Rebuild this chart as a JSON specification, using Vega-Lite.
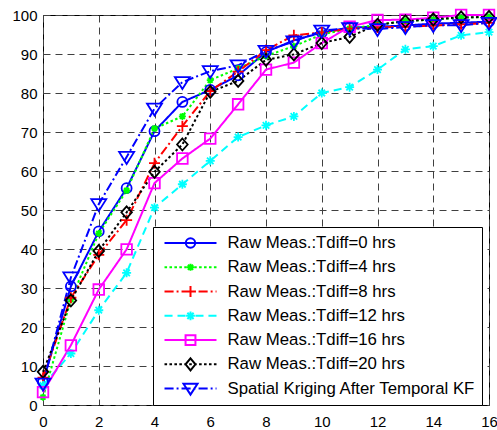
{
  "$schema": "https://vega.github.io/schema/vega-lite/v6.json",
  "width": 446,
  "height": 390,
  "autosize": {"type": "none"},
  "padding": {"left": 43, "top": 15, "right": 8, "bottom": 25},
  "background": "white",
  "config": {
    "view": {"stroke": "#000", "strokeWidth": 1},
    "font": "Liberation Sans",
    "axis": {
      "domain": false, "ticks": false, "tickSize": 0,
      "labelFont": "Liberation Sans", "labelFontSize": 15, "labelColor": "#000",
      "grid": true, "gridColor": "#404040", "gridDash": [7, 5], "gridWidth": 1, "gridOpacity": 1,
      "title": null, "labelOverlap": false
    }
  },
  "data": {"values": [
    {"series": "Raw Meas.:Tdiff=0 hrs", "x": 0, "y": 5.9},
    {"series": "Raw Meas.:Tdiff=0 hrs", "x": 1, "y": 30.4},
    {"series": "Raw Meas.:Tdiff=0 hrs", "x": 2, "y": 44.5},
    {"series": "Raw Meas.:Tdiff=0 hrs", "x": 3, "y": 55.6},
    {"series": "Raw Meas.:Tdiff=0 hrs", "x": 4, "y": 70.2},
    {"series": "Raw Meas.:Tdiff=0 hrs", "x": 5, "y": 77.7},
    {"series": "Raw Meas.:Tdiff=0 hrs", "x": 6, "y": 80.8},
    {"series": "Raw Meas.:Tdiff=0 hrs", "x": 7, "y": 84.5},
    {"series": "Raw Meas.:Tdiff=0 hrs", "x": 8, "y": 90.5},
    {"series": "Raw Meas.:Tdiff=0 hrs", "x": 9, "y": 93.5},
    {"series": "Raw Meas.:Tdiff=0 hrs", "x": 10, "y": 95.5},
    {"series": "Raw Meas.:Tdiff=0 hrs", "x": 11, "y": 96.8},
    {"series": "Raw Meas.:Tdiff=0 hrs", "x": 12, "y": 97.0},
    {"series": "Raw Meas.:Tdiff=0 hrs", "x": 13, "y": 97.3},
    {"series": "Raw Meas.:Tdiff=0 hrs", "x": 14, "y": 97.8},
    {"series": "Raw Meas.:Tdiff=0 hrs", "x": 15, "y": 98.0},
    {"series": "Raw Meas.:Tdiff=0 hrs", "x": 16, "y": 98.3},

    {"series": "Raw Meas.:Tdiff=4 hrs", "x": 0, "y": 2},
    {"series": "Raw Meas.:Tdiff=4 hrs", "x": 1, "y": 27},
    {"series": "Raw Meas.:Tdiff=4 hrs", "x": 2, "y": 44},
    {"series": "Raw Meas.:Tdiff=4 hrs", "x": 3, "y": 55},
    {"series": "Raw Meas.:Tdiff=4 hrs", "x": 4, "y": 70.9},
    {"series": "Raw Meas.:Tdiff=4 hrs", "x": 5, "y": 74},
    {"series": "Raw Meas.:Tdiff=4 hrs", "x": 6, "y": 83.3},
    {"series": "Raw Meas.:Tdiff=4 hrs", "x": 7, "y": 86.3},
    {"series": "Raw Meas.:Tdiff=4 hrs", "x": 8, "y": 89.5},
    {"series": "Raw Meas.:Tdiff=4 hrs", "x": 9, "y": 92},
    {"series": "Raw Meas.:Tdiff=4 hrs", "x": 10, "y": 95},
    {"series": "Raw Meas.:Tdiff=4 hrs", "x": 11, "y": 96.5},
    {"series": "Raw Meas.:Tdiff=4 hrs", "x": 12, "y": 97.5},
    {"series": "Raw Meas.:Tdiff=4 hrs", "x": 13, "y": 98.5},
    {"series": "Raw Meas.:Tdiff=4 hrs", "x": 14, "y": 98.8},
    {"series": "Raw Meas.:Tdiff=4 hrs", "x": 15, "y": 99.3},
    {"series": "Raw Meas.:Tdiff=4 hrs", "x": 16, "y": 99.5},

    {"series": "Raw Meas.:Tdiff=8 hrs", "x": 0, "y": 7},
    {"series": "Raw Meas.:Tdiff=8 hrs", "x": 1, "y": 27.5},
    {"series": "Raw Meas.:Tdiff=8 hrs", "x": 2, "y": 38.5},
    {"series": "Raw Meas.:Tdiff=8 hrs", "x": 3, "y": 47.4},
    {"series": "Raw Meas.:Tdiff=8 hrs", "x": 4, "y": 62},
    {"series": "Raw Meas.:Tdiff=8 hrs", "x": 5, "y": 71.5},
    {"series": "Raw Meas.:Tdiff=8 hrs", "x": 6, "y": 80.5},
    {"series": "Raw Meas.:Tdiff=8 hrs", "x": 7, "y": 85.5},
    {"series": "Raw Meas.:Tdiff=8 hrs", "x": 8, "y": 91},
    {"series": "Raw Meas.:Tdiff=8 hrs", "x": 9, "y": 94.8},
    {"series": "Raw Meas.:Tdiff=8 hrs", "x": 10, "y": 95.5},
    {"series": "Raw Meas.:Tdiff=8 hrs", "x": 11, "y": 96.5},
    {"series": "Raw Meas.:Tdiff=8 hrs", "x": 12, "y": 96.8},
    {"series": "Raw Meas.:Tdiff=8 hrs", "x": 13, "y": 97},
    {"series": "Raw Meas.:Tdiff=8 hrs", "x": 14, "y": 97.3},
    {"series": "Raw Meas.:Tdiff=8 hrs", "x": 15, "y": 97.6},
    {"series": "Raw Meas.:Tdiff=8 hrs", "x": 16, "y": 98},

    {"series": "Raw Meas.:Tdiff=12 hrs", "x": 0, "y": 5},
    {"series": "Raw Meas.:Tdiff=12 hrs", "x": 1, "y": 13.2},
    {"series": "Raw Meas.:Tdiff=12 hrs", "x": 2, "y": 24.3},
    {"series": "Raw Meas.:Tdiff=12 hrs", "x": 3, "y": 33.9},
    {"series": "Raw Meas.:Tdiff=12 hrs", "x": 4, "y": 50.6},
    {"series": "Raw Meas.:Tdiff=12 hrs", "x": 5, "y": 56.6},
    {"series": "Raw Meas.:Tdiff=12 hrs", "x": 6, "y": 62.6},
    {"series": "Raw Meas.:Tdiff=12 hrs", "x": 7, "y": 68.7},
    {"series": "Raw Meas.:Tdiff=12 hrs", "x": 8, "y": 71.7},
    {"series": "Raw Meas.:Tdiff=12 hrs", "x": 9, "y": 74},
    {"series": "Raw Meas.:Tdiff=12 hrs", "x": 10, "y": 80},
    {"series": "Raw Meas.:Tdiff=12 hrs", "x": 11, "y": 81.5},
    {"series": "Raw Meas.:Tdiff=12 hrs", "x": 12, "y": 86},
    {"series": "Raw Meas.:Tdiff=12 hrs", "x": 13, "y": 91.2},
    {"series": "Raw Meas.:Tdiff=12 hrs", "x": 14, "y": 92},
    {"series": "Raw Meas.:Tdiff=12 hrs", "x": 15, "y": 94.8},
    {"series": "Raw Meas.:Tdiff=12 hrs", "x": 16, "y": 95.6},

    {"series": "Raw Meas.:Tdiff=16 hrs", "x": 0, "y": 3.3},
    {"series": "Raw Meas.:Tdiff=16 hrs", "x": 1, "y": 15.3},
    {"series": "Raw Meas.:Tdiff=16 hrs", "x": 2, "y": 29.6},
    {"series": "Raw Meas.:Tdiff=16 hrs", "x": 3, "y": 39.9},
    {"series": "Raw Meas.:Tdiff=16 hrs", "x": 4, "y": 56.9},
    {"series": "Raw Meas.:Tdiff=16 hrs", "x": 5, "y": 63.2},
    {"series": "Raw Meas.:Tdiff=16 hrs", "x": 6, "y": 68.3},
    {"series": "Raw Meas.:Tdiff=16 hrs", "x": 7, "y": 77.1},
    {"series": "Raw Meas.:Tdiff=16 hrs", "x": 8, "y": 86},
    {"series": "Raw Meas.:Tdiff=16 hrs", "x": 9, "y": 87.8},
    {"series": "Raw Meas.:Tdiff=16 hrs", "x": 10, "y": 92.8},
    {"series": "Raw Meas.:Tdiff=16 hrs", "x": 11, "y": 97},
    {"series": "Raw Meas.:Tdiff=16 hrs", "x": 12, "y": 98.7},
    {"series": "Raw Meas.:Tdiff=16 hrs", "x": 13, "y": 98.8},
    {"series": "Raw Meas.:Tdiff=16 hrs", "x": 14, "y": 99.3},
    {"series": "Raw Meas.:Tdiff=16 hrs", "x": 15, "y": 100},
    {"series": "Raw Meas.:Tdiff=16 hrs", "x": 16, "y": 100},

    {"series": "Raw Meas.:Tdiff=20 hrs", "x": 0, "y": 8.5},
    {"series": "Raw Meas.:Tdiff=20 hrs", "x": 1, "y": 26.8},
    {"series": "Raw Meas.:Tdiff=20 hrs", "x": 2, "y": 39.5},
    {"series": "Raw Meas.:Tdiff=20 hrs", "x": 3, "y": 49.4},
    {"series": "Raw Meas.:Tdiff=20 hrs", "x": 4, "y": 59.8},
    {"series": "Raw Meas.:Tdiff=20 hrs", "x": 5, "y": 66.8},
    {"series": "Raw Meas.:Tdiff=20 hrs", "x": 6, "y": 80.3},
    {"series": "Raw Meas.:Tdiff=20 hrs", "x": 7, "y": 83.1},
    {"series": "Raw Meas.:Tdiff=20 hrs", "x": 8, "y": 88.5},
    {"series": "Raw Meas.:Tdiff=20 hrs", "x": 9, "y": 89.9},
    {"series": "Raw Meas.:Tdiff=20 hrs", "x": 10, "y": 92.8},
    {"series": "Raw Meas.:Tdiff=20 hrs", "x": 11, "y": 94.4},
    {"series": "Raw Meas.:Tdiff=20 hrs", "x": 12, "y": 97.5},
    {"series": "Raw Meas.:Tdiff=20 hrs", "x": 13, "y": 98.4},
    {"series": "Raw Meas.:Tdiff=20 hrs", "x": 14, "y": 98.9},
    {"series": "Raw Meas.:Tdiff=20 hrs", "x": 15, "y": 99.4},
    {"series": "Raw Meas.:Tdiff=20 hrs", "x": 16, "y": 99.5},

    {"series": "Spatial Kriging After Temporal KF", "x": 0, "y": 5.5},
    {"series": "Spatial Kriging After Temporal KF", "x": 1, "y": 32.7},
    {"series": "Spatial Kriging After Temporal KF", "x": 2, "y": 51.5},
    {"series": "Spatial Kriging After Temporal KF", "x": 3, "y": 63.6},
    {"series": "Spatial Kriging After Temporal KF", "x": 4, "y": 76},
    {"series": "Spatial Kriging After Temporal KF", "x": 5, "y": 82.8},
    {"series": "Spatial Kriging After Temporal KF", "x": 6, "y": 85.6},
    {"series": "Spatial Kriging After Temporal KF", "x": 7, "y": 87.1},
    {"series": "Spatial Kriging After Temporal KF", "x": 8, "y": 90.8},
    {"series": "Spatial Kriging After Temporal KF", "x": 9, "y": 93.2},
    {"series": "Spatial Kriging After Temporal KF", "x": 10, "y": 96},
    {"series": "Spatial Kriging After Temporal KF", "x": 11, "y": 96.6},
    {"series": "Spatial Kriging After Temporal KF", "x": 12, "y": 96.4},
    {"series": "Spatial Kriging After Temporal KF", "x": 13, "y": 96.9},
    {"series": "Spatial Kriging After Temporal KF", "x": 14, "y": 97.4},
    {"series": "Spatial Kriging After Temporal KF", "x": 15, "y": 97.4},
    {"series": "Spatial Kriging After Temporal KF", "x": 16, "y": 98}
  ]},
  "encoding": {
    "x": {"field": "x", "type": "quantitative", "scale": {"domain": [0, 16], "nice": false},
          "axis": {"values": [0, 2, 4, 6, 8, 10, 12, 14, 16], "labelPadding": 9, "title": null, "labelFlush": false, "labelOverlap": false}},
    "y": {"field": "y", "type": "quantitative", "scale": {"domain": [0, 100], "nice": false},
          "axis": {"values": [0, 10, 20, 30, 40, 50, 60, 70, 80, 90, 100], "labelPadding": 6, "title": null, "labelFlush": false, "labelOverlap": false}}
  },
  "layer": [
    {
      "mark": {"type": "line", "strokeWidth": 2, "strokeCap": "butt"},
      "encoding": {
        "color": {"field": "series", "type": "nominal", "legend": null,
          "scale": {"domain": ["Raw Meas.:Tdiff=0 hrs", "Raw Meas.:Tdiff=4 hrs", "Raw Meas.:Tdiff=8 hrs", "Raw Meas.:Tdiff=12 hrs", "Raw Meas.:Tdiff=16 hrs", "Raw Meas.:Tdiff=20 hrs", "Spatial Kriging After Temporal KF"],
                    "range": ["#0000FF", "#00FF00", "#FF0000", "#00FFFF", "#FF00FF", "#000000", "#0000FF"]}},
        "strokeDash": {"field": "series", "type": "nominal", "legend": null,
          "scale": {"domain": ["Raw Meas.:Tdiff=0 hrs", "Raw Meas.:Tdiff=4 hrs", "Raw Meas.:Tdiff=8 hrs", "Raw Meas.:Tdiff=12 hrs", "Raw Meas.:Tdiff=16 hrs", "Raw Meas.:Tdiff=20 hrs", "Spatial Kriging After Temporal KF"],
                    "range": [[1, 0], [2.5, 2.5], [9, 3, 2, 3], [8, 5], [1, 0], [2.5, 2.5], [9, 3, 2, 3]]}}
      }
    },
    {
      "mark": {"type": "point", "filled": false, "size": 100, "strokeWidth": 1.8, "opacity": 1},
      "encoding": {
        "color": {"field": "series", "type": "nominal", "legend": null,
          "scale": {"domain": ["Raw Meas.:Tdiff=0 hrs", "Raw Meas.:Tdiff=4 hrs", "Raw Meas.:Tdiff=8 hrs", "Raw Meas.:Tdiff=12 hrs", "Raw Meas.:Tdiff=16 hrs", "Raw Meas.:Tdiff=20 hrs", "Spatial Kriging After Temporal KF"],
                    "range": ["#0000FF", "#00FF00", "#FF0000", "#00FFFF", "#FF00FF", "#000000", "#0000FF"]}},
        "shape": {"field": "series", "type": "nominal", "legend": null,
          "scale": {"domain": ["Raw Meas.:Tdiff=0 hrs", "Raw Meas.:Tdiff=4 hrs", "Raw Meas.:Tdiff=8 hrs", "Raw Meas.:Tdiff=12 hrs", "Raw Meas.:Tdiff=16 hrs", "Raw Meas.:Tdiff=20 hrs", "Spatial Kriging After Temporal KF"],
                    "range": [
                      "M1,0A1,1 0 1 1 -1,0A1,1 0 1 1 1,0Z",
                      "M-0.7,0H0.7M0,-0.7V0.7M-0.5,-0.5L0.5,0.5M-0.5,0.5L0.5,-0.5",
                      "M-1.1,0H1.1M0,-1.1V1.1",
                      "M-0.9,0H0.9M0,-0.9V0.9M-0.65,-0.65L0.65,0.65M-0.65,0.65L0.65,-0.65",
                      "M-1.06,-1.06H1.06V1.06H-1.06Z",
                      "M0,-1.2L1.06,0L0,1.2L-1.06,0Z",
                      "M-1.5,-1L1.5,-1L0,1.4Z"
                    ]}}
      }
    },
    {
      "mark": {"type": "point", "filled": false, "size": 4, "strokeWidth": 2, "opacity": 0},
      "encoding": {
        "color": {"field": "series", "type": "nominal",
          "legend": {"title": null, "orient": "none", "legendX": 110, "legendY": 212, "padding": 6, "symbolOffset": 4.5, "labelOffset": 10, "clipHeight": 20, "rowPadding": 4.27, "symbolSize": 2704, "symbolStrokeWidth": 2, "symbolOpacity": 1, "labelFontSize": 16.8, "labelFont": "Liberation Sans", "labelColor": "#000", "labelLimit": 400, "strokeColor": "#000", "fillColor": "#fff", "cornerRadius": 0},
          "scale": {"domain": ["Raw Meas.:Tdiff=0 hrs", "Raw Meas.:Tdiff=4 hrs", "Raw Meas.:Tdiff=8 hrs", "Raw Meas.:Tdiff=12 hrs", "Raw Meas.:Tdiff=16 hrs", "Raw Meas.:Tdiff=20 hrs", "Spatial Kriging After Temporal KF"],
                    "range": ["#0000FF", "#00FF00", "#FF0000", "#00FFFF", "#FF00FF", "#000000", "#0000FF"]}},
        "shape": {"field": "series", "type": "nominal",
          "legend": {"title": null, "orient": "none", "legendX": 110, "legendY": 212, "padding": 6, "symbolOffset": 4.5, "labelOffset": 10, "clipHeight": 20, "rowPadding": 4.27, "symbolSize": 2704, "symbolStrokeWidth": 2, "symbolOpacity": 1, "labelFontSize": 16.8, "labelFont": "Liberation Sans", "labelColor": "#000", "labelLimit": 400, "strokeColor": "#000", "fillColor": "#fff", "cornerRadius": 0},
          "scale": {"domain": ["Raw Meas.:Tdiff=0 hrs", "Raw Meas.:Tdiff=4 hrs", "Raw Meas.:Tdiff=8 hrs", "Raw Meas.:Tdiff=12 hrs", "Raw Meas.:Tdiff=16 hrs", "Raw Meas.:Tdiff=20 hrs", "Spatial Kriging After Temporal KF"],
                    "range": [
                      "M-1,0H1M0.18,0A0.18,0.18 0 1 1 -0.18,0A0.18,0.18 0 1 1 0.18,0",
                      "M-1,0h0.1M-0.81,0h0.1M-0.62,0h0.1M-0.43,0h0.1M-0.24,0h0.1M-0.05,0h0.1M0.14,0h0.1M0.33,0h0.1M0.52,0h0.1M0.71,0h0.1M0.9,0h0.1M-0.135,0H0.135M0,-0.135V0.135M-0.1,-0.1L0.1,0.1M-0.1,0.1L0.1,-0.1",
                      "M-1,0H-0.65M-0.535,0H-0.46M-0.345,0H0.005M0.12,0H0.195M0.31,0H0.66M0.775,0H0.85M0.965,0H1M-0.21,0H0.21M0,-0.21V0.21",
                      "M-1,0H-0.69M-0.5,0H-0.19M0.19,0H0.5M0.69,0H1M-0.17,0H0.17M0,-0.17V0.17M-0.12,-0.12L0.12,0.12M-0.12,0.12L0.12,-0.12",
                      "M-1,0H1M-0.19,-0.19H0.19V0.19H-0.19Z",
                      "M-1,0h0.1M-0.81,0h0.1M-0.62,0h0.1M-0.43,0h0.1M-0.24,0h0.1M-0.05,0h0.1M0.14,0h0.1M0.33,0h0.1M0.52,0h0.1M0.71,0h0.1M0.9,0h0.1M0,-0.23L0.19,0L0,0.23L-0.19,0Z",
                      "M-1,0H-0.65M-0.535,0H-0.46M-0.345,0H0.005M0.12,0H0.195M0.31,0H0.66M0.775,0H0.85M0.965,0H1M-0.27,-0.19H0.27L0,0.23Z"
                    ]}}
      }
    }
  ],
  "resolve": {"scale": {"color": "independent", "shape": "independent", "strokeDash": "independent"}}
}
